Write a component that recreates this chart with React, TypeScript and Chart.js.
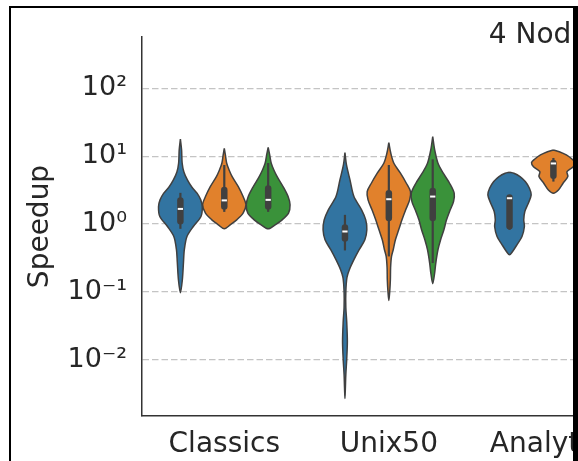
import React, { useEffect, useRef } from 'react';
import { Chart, registerables } from 'chart.js';

Chart.register(...registerables);

// ---------- data ----------
const CATEGORIES = ['Classics', 'Unix50', 'Analytics'];
const HUE_COLORS = ['#3274a1', '#e1812c', '#3a923a'];
const TITLE = '4 Nodes';
const Y_LABEL = 'Speedup';
const Y_TICKS = [0.01, 0.1, 1, 10, 100];
const Y_TICK_LABELS = ['10\u207B\u00B2', '10\u207B\u00B9', '10\u2070', '10\u00B9', '10\u00B2'];
const Y_MIN = 0.00148;
const Y_MAX = 571;
const X_MIN = -0.5;
const X_MAX = 4.41;

// violin profiles: speedup values (top -> bottom) and relative density (0..1)
const classicsBlueY = [17.9, 12.3, 7.94, 5.86, 4.47, 3.52, 2.85, 2.27, 1.79, 1.29, 0.919, 0.655, 0.418, 0.269, 0.151, 0.0973];
const classicsBlueD = [0, 0.055, 0.08, 0.16, 0.32, 0.52, 0.76, 0.93, 1.0, 0.94, 0.59, 0.3, 0.18, 0.14, 0.09, 0];
const classicsOrangeY = [13.06, 10.42, 7.86, 6.27, 5.0, 3.56, 2.54, 1.92, 1.45, 1.153, 0.973, 0.85];
const classicsOrangeD = [0, 0.05, 0.11, 0.22, 0.36, 0.64, 0.86, 0.99, 0.86, 0.57, 0.27, 0];
const classicsGreenY = [13.52, 10.42, 7.86, 6.27, 5.0, 3.56, 2.54, 1.92, 1.45, 1.153, 0.973, 0.85];
const classicsGreenD = [0, 0.07, 0.14, 0.26, 0.41, 0.68, 0.91, 1.0, 0.93, 0.64, 0.32, 0];

const unixBlueY = [11.25, 7.42, 4.47, 2.54, 1.62, 1.153, 0.822, 0.586, 0.418, 0.298, 0.212, 0.162, 0.1007, 0.0586, 0.0365, 0.01853, 0.01007, 0.00606, 0.0039, 0.00269];
const unixBlueD = [0, 0.07, 0.23, 0.41, 0.76, 0.95, 1.0, 0.91, 0.65, 0.41, 0.2, 0.09, 0.04, 0.04, 0.08, 0.11, 0.08, 0.04, 0.02, 0];
const unixOrangeY = [15.8, 11.03, 7.86, 5.61, 3.99, 3.0, 2.27, 1.62, 1.153, 0.822, 0.586, 0.418, 0.33, 0.227, 0.151, 0.1007, 0.0743];
const unixOrangeD = [0, 0.09, 0.23, 0.53, 0.8, 0.99, 0.95, 0.77, 0.6, 0.45, 0.3, 0.2, 0.12, 0.08, 0.07, 0.04, 0];
const unixGreenY = [19.36, 12.33, 7.86, 5.61, 3.99, 2.85, 2.14, 1.62, 1.153, 0.822, 0.586, 0.418, 0.266, 0.192, 0.132];
const unixGreenD = [0, 0.09, 0.24, 0.48, 0.77, 0.98, 0.95, 0.8, 0.63, 0.51, 0.36, 0.24, 0.14, 0.09, 0];

const analyticsBlueY = [5.8, 5.61, 5.0, 4.22, 3.37, 2.69, 2.03, 1.527, 1.153, 0.919, 0.655, 0.494, 0.394, 0.352];
const analyticsBlueD = [0, 0.2, 0.48, 0.72, 0.91, 0.99, 0.86, 0.7, 0.65, 0.68, 0.57, 0.34, 0.14, 0];
const analyticsOrangeY = [12.33, 11.64, 10.42, 9.0, 8.02, 7.01, 5.92, 5.0, 3.99, 3.18, 2.85];
const analyticsOrangeD = [0, 0.27, 0.59, 0.86, 1.0, 0.91, 0.62, 0.66, 0.44, 0.23, 0];

// inner boxes: [whisker low, q1, median, q3, whisker high]
const classicsBlueBox = [0.85, 1.096, 1.67, 2.23, 2.88];
const classicsOrangeBox = [1.51, 1.82, 2.23, 3.16, 7.42];
const classicsGreenBox = [1.51, 1.82, 2.27, 3.35, 7.94];
const unixBlueBox = [0.408, 0.61, 0.776, 0.885, 1.365];
const unixOrangeBox = [0.333, 1.225, 2.32, 2.83, 7.42];
const unixGreenBox = [0.266, 1.225, 2.54, 3.06, 9.0];
const analyticsBlueBox = [0.822, 0.925, 2.4, 2.45, 2.6];
const analyticsOrangeBox = [4.22, 5.15, 7.81, 7.9, 9.41];

const VIOLINS = [
  { cat: 0, hue: 0, ys: classicsBlueY, ds: classicsBlueD, box: classicsBlueBox },
  { cat: 0, hue: 1, ys: classicsOrangeY, ds: classicsOrangeD, box: classicsOrangeBox },
  { cat: 0, hue: 2, ys: classicsGreenY, ds: classicsGreenD, box: classicsGreenBox },
  { cat: 1, hue: 0, ys: unixBlueY, ds: unixBlueD, box: unixBlueBox },
  { cat: 1, hue: 1, ys: unixOrangeY, ds: unixOrangeD, box: unixOrangeBox },
  { cat: 1, hue: 2, ys: unixGreenY, ds: unixGreenD, box: unixGreenBox },
  { cat: 2, hue: 0, ys: analyticsBlueY, ds: analyticsBlueD, box: analyticsBlueBox },
  { cat: 2, hue: 1, ys: analyticsOrangeY, ds: analyticsOrangeD, box: analyticsOrangeBox },
];

// ---------- styling ----------
const FONT = 'DejaVu Sans';
const TEXT_COLOR = '#262626';
const LINE_COLOR = '#404040';
const HUE_OFFSET = 0.2667;
const HALF_WIDTH = 0.133;
const MEDIAN_HALF = 0.016;

function buildDatasets() {
  const sets: any[] = [];
  VIOLINS.forEach((v) => {
    const c = v.cat + (v.hue - 1) * HUE_OFFSET;
    const right = v.ys.map((y, i) => ({ x: c + v.ds[i] * HALF_WIDTH, y }));
    const left = v.ys.map((y, i) => ({ x: c - v.ds[i] * HALF_WIDTH, y })).reverse();
    sets.push({
      data: [...right, ...left.slice(1)],
      showLine: true,
      fill: 'shape',
      backgroundColor: HUE_COLORS[v.hue],
      borderColor: LINE_COLOR,
      borderWidth: 1.5,
      borderJoinStyle: 'round',
      tension: 0.3,
      pointRadius: 0,
      order: 3,
    });
    const [wl, q1, med, q3, wh] = v.box;
    sets.push({
      data: [{ x: c, y: wl }, { x: c, y: wh }],
      showLine: true,
      fill: false,
      borderColor: LINE_COLOR,
      borderWidth: 2.2,
      pointRadius: 0,
      order: 2,
    });
    sets.push({
      data: [{ x: c, y: q1 }, { x: c, y: q3 }],
      showLine: true,
      fill: false,
      borderColor: LINE_COLOR,
      borderWidth: 6.5,
      borderCapStyle: 'round',
      pointRadius: 0,
      order: 1,
    });
    sets.push({
      data: [{ x: c - MEDIAN_HALF, y: med }, { x: c + MEDIAN_HALF, y: med }],
      showLine: true,
      fill: false,
      borderColor: '#ffffff',
      borderWidth: 2,
      pointRadius: 0,
      order: 0,
    });
  });
  return sets;
}

export default function App() {
  const ref = useRef<HTMLCanvasElement | null>(null);

  useEffect(() => {
    if (!ref.current) return;
    const chart = new Chart(ref.current, {
      type: 'scatter',
      data: { datasets: buildDatasets() },
      options: {
        animation: false,
        responsive: false,
        devicePixelRatio: 1,
        events: [],
        layout: { padding: 0 },
        plugins: {
          legend: { display: false },
          tooltip: { enabled: false },
          title: {
            display: true,
            text: TITLE,
            fullSize: false,
            color: TEXT_COLOR,
            font: { family: FONT, size: 28, weight: 'normal', lineHeight: 1.2 },
            padding: { top: 18.5, bottom: -15.1 },
          },
        },
        scales: {
          x: {
            type: 'linear',
            min: X_MIN,
            max: X_MAX,
            bounds: 'data',
            grid: { display: false, drawTicks: false },
            border: { display: true, color: '#333333', width: 1.5 },
            ticks: {
              font: { family: FONT, size: 28 },
              color: TEXT_COLOR,
              padding: 12,
              autoSkip: false,
              maxRotation: 0,
              callback: (_v: any, i: number) => CATEGORIES[i] ?? '',
            },
            afterBuildTicks: (s: any) => {
              s.ticks = CATEGORIES.map((_, i) => ({ value: i }));
            },
            afterFit: (s: any) => {
              s.height = 45;
            },
          },
          y: {
            type: 'logarithmic',
            min: Y_MIN,
            max: Y_MAX,
            bounds: 'data',
            grid: { color: '#c4c4c4', lineWidth: 1.2, drawTicks: false },
            border: { display: true, color: '#333333', width: 1.5, dash: [6.5, 3] },
            ticks: {
              font: { family: FONT, size: 27 },
              color: TEXT_COLOR,
              padding: 15,
              autoSkip: false,
              callback: (_v: any, i: number) => Y_TICK_LABELS[i],
            },
            title: {
              display: true,
              text: Y_LABEL,
              color: TEXT_COLOR,
              font: { family: FONT, size: 28 },
              padding: { top: 24, bottom: 0 },
            },
            afterBuildTicks: (s: any) => {
              s.ticks = Y_TICKS.map((v) => ({ value: v }));
            },
            afterFit: (s: any) => {
              s.width = 142;
            },
          },
        },
      } as any,
    });
    return () => chart.destroy();
  }, []);

  return (
    <div
      style={{
        position: 'absolute',
        left: 0,
        top: 0,
        width: 578,
        height: 461,
        overflow: 'hidden',
        background: '#ffffff',
      }}
    >
      <canvas
        ref={ref}
        width={950}
        height={461}
        style={{ display: 'block', width: 950, height: 461 }}
      />
      <div
        style={{
          position: 'absolute',
          left: 9,
          top: 6,
          width: 569,
          height: 470,
          boxSizing: 'border-box',
          borderLeft: '2px solid #000',
          borderTop: '2px solid #000',
          borderRight: '5px solid #000',
          pointerEvents: 'none',
        }}
      />
    </div>
  );
}
